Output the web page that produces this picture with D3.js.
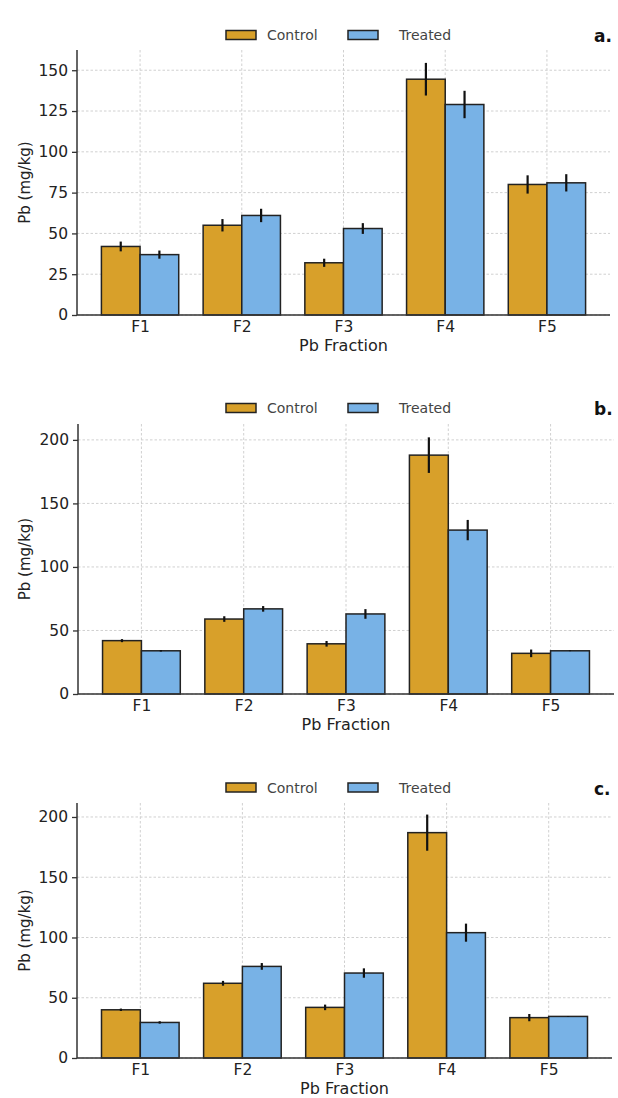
<!DOCTYPE html>
<html>
<head>
<meta charset="utf-8">
<script src="https://cdn.jsdelivr.net/npm/d3@7"></script>
<style>
  html, body { margin: 0; padding: 0; background: #fff; }
  svg { display: block; }
  text { font-family: "DejaVu Sans", sans-serif; }
</style>
</head>
<body>
<svg id="chart" width="618" height="1098"></svg>
<script>
// ---------- data ----------
const categories = ["F1", "F2", "F3", "F4", "F5"];
const seriesNames = ["Control", "Treated"];

const aControl    = [42, 55, 32, 144.5, 80];
const aControlErr = [3, 3.8, 2.5, 10, 5.6];
const aTreated    = [37, 61, 53, 129, 81];
const aTreatedErr = [2.5, 4.1, 3.3, 8.4, 5.3];

const bControl    = [42, 59, 39.5, 188, 32];
const bControlErr = [1.2, 2.2, 2.2, 14, 3];
const bTreated    = [34, 67, 63, 129, 34];
const bTreatedErr = [0.6, 2.2, 3.8, 8, 0.3];

const cControl    = [40, 62, 42, 187, 33.5];
const cControlErr = [1, 2, 2.3, 15, 3];
const cTreated    = [29.5, 76, 70.5, 104, 34.5];
const cTreatedErr = [1, 2.8, 3.9, 7.5, 0.3];

const aTicks = [0, 25, 50, 75, 100, 125, 150];
const bTicks = [0, 50, 100, 150, 200];
const cTicks = [0, 50, 100, 150, 200];

const panelLabels = ["a.", "b.", "c."];
const yLabel = "Pb (mg/kg)";
const xLabel = "Pb Fraction";

// ---------- styling / layout ----------
const colors = { Control: "#D8A02A", Treated: "#78B2E6" };
const barW = 0.38;

const panels = [
  { label: panelLabels[0], control: aControl, cErr: aControlErr, treated: aTreated, tErr: aTreatedErr,
    ticks: aTicks, yMax: 162.4, left: 77, right: 610, top: 50, bottom: 315, legendY: 35 },
  { label: panelLabels[1], control: bControl, cErr: bControlErr, treated: bTreated, tErr: bTreatedErr,
    ticks: bTicks, yMax: 212.5, left: 78, right: 614, top: 424, bottom: 694, legendY: 408 },
  { label: panelLabels[2], control: cControl, cErr: cControlErr, treated: cTreated, tErr: cTreatedErr,
    ticks: cTicks, yMax: 211.6, left: 77, right: 612, top: 803, bottom: 1058, legendY: 787.5 }
];

const svg = d3.select("#chart");

panels.forEach(p => {
  const g = svg.append("g");
  const x = d3.scaleLinear().domain([-0.62, 4.62]).range([p.left, p.right]);
  const y = d3.scaleLinear().domain([0, p.yMax]).range([p.bottom, p.top]);

  // grid lines
  g.append("g").selectAll("line").data(p.ticks).join("line")
    .attr("x1", p.left).attr("x2", p.right)
    .attr("y1", d => y(d)).attr("y2", d => y(d))
    .attr("stroke", "#d0d0d0").attr("stroke-width", 1).attr("stroke-dasharray", "2.5,2");
  g.append("g").selectAll("line").data(categories).join("line")
    .attr("x1", (d, i) => x(i)).attr("x2", (d, i) => x(i))
    .attr("y1", p.top).attr("y2", p.bottom)
    .attr("stroke", "#d0d0d0").attr("stroke-width", 1).attr("stroke-dasharray", "2.5,2");

  // bars
  const series = [
    { name: "Control", vals: p.control, errs: p.cErr, off: -barW / 2 },
    { name: "Treated", vals: p.treated, errs: p.tErr, off: barW / 2 }
  ];
  series.forEach(s => {
    g.append("g").selectAll("rect").data(s.vals).join("rect")
      .attr("x", (d, i) => x(i + s.off - barW / 2))
      .attr("width", x(barW) - x(0))
      .attr("y", d => y(d))
      .attr("height", d => y(0) - y(d))
      .attr("fill", colors[s.name])
      .attr("stroke", "#222").attr("stroke-width", 1.5);
  });
  series.forEach(s => {
    g.append("g").selectAll("line").data(s.vals).join("line")
      .attr("x1", (d, i) => x(i + s.off)).attr("x2", (d, i) => x(i + s.off))
      .attr("y1", (d, i) => y(d - s.errs[i])).attr("y2", (d, i) => y(d + s.errs[i]))
      .attr("stroke", "#111").attr("stroke-width", 2.2);
  });

  // y axis
  const yAxis = d3.axisLeft(y).tickValues(p.ticks).tickSize(5).tickPadding(4);
  const ya = g.append("g").attr("transform", `translate(${p.left},0)`).call(yAxis);
  ya.select(".domain").attr("stroke", "#333").attr("stroke-width", 1.5)
    .attr("d", `M0,${p.top}V${p.bottom}`);
  ya.selectAll(".tick line").attr("stroke", "#333").attr("stroke-width", 1.3);
  ya.selectAll(".tick text").attr("font-size", "15.5px").attr("fill", "#222")
    .attr("font-family", "DejaVu Sans");

  // x axis
  const xb = d3.scaleBand().domain(categories);
  const xAxis = d3.axisBottom(x).tickValues(d3.range(categories.length))
    .tickFormat(i => categories[i]).tickSize(0).tickPadding(6);
  const xa = g.append("g").attr("transform", `translate(0,${p.bottom})`).call(xAxis);
  xa.select(".domain").attr("stroke", "#333").attr("stroke-width", 1.5)
    .attr("d", `M${p.left},0H${p.right}`);
  xa.selectAll(".tick text").attr("font-size", "15.5px").attr("fill", "#222")
    .attr("font-family", "DejaVu Sans");

  // axis labels
  g.append("text")
    .attr("transform", `translate(25,${(p.top + p.bottom) / 2}) rotate(-90)`)
    .attr("text-anchor", "middle").attr("dominant-baseline", "central")
    .attr("font-size", "15px").attr("fill", "#222").text(yLabel);
  g.append("text")
    .attr("x", (p.left + p.right) / 2).attr("y", p.bottom + 36)
    .attr("text-anchor", "middle")
    .attr("font-size", "16px").attr("fill", "#222").text(xLabel);

  // legend
  const legendItems = [
    { name: seriesNames[0], px: 226, tx: 267 },
    { name: seriesNames[1], px: 348, tx: 399 }
  ];
  legendItems.forEach(it => {
    g.append("rect").attr("x", it.px).attr("y", p.legendY - 4.5)
      .attr("width", 30).attr("height", 9)
      .attr("fill", colors[it.name]).attr("stroke", "#222").attr("stroke-width", 1.5);
    g.append("text").attr("x", it.tx).attr("y", p.legendY)
      .attr("dominant-baseline", "central")
      .attr("font-size", "14px").attr("fill", "#444").text(it.name);
  });

  // panel label
  g.append("text").attr("x", 594).attr("y", p.legendY + 1)
    .attr("dominant-baseline", "central")
    .attr("font-family", "Open Sans").attr("font-weight", "bold")
    .attr("font-size", "17px").attr("fill", "#111").text(p.label);
});
</script>
</body>
</html>
